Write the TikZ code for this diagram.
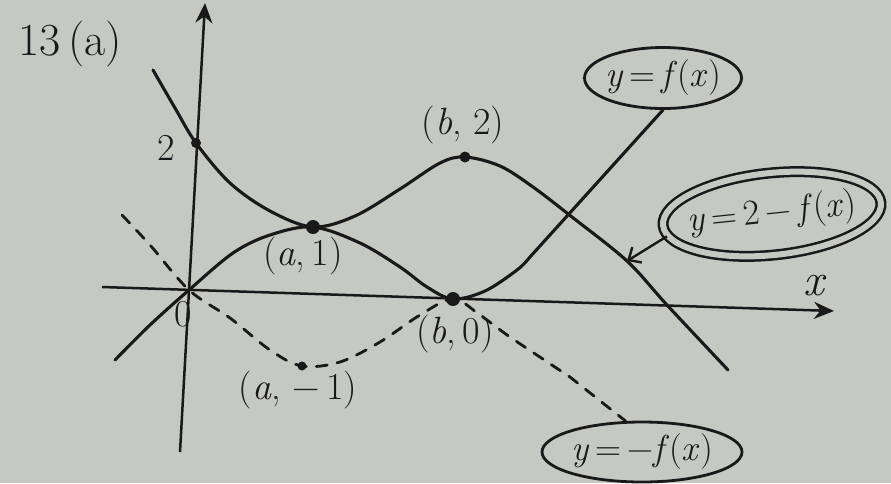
\documentclass[tikz,border=0pt]{standalone}
\usetikzlibrary{arrows.meta,shapes.geometric}
\definecolor{paper}{RGB}{198,200,194}
\definecolor{ink}{RGB}{25,25,25}
\newcommand{\vv}[1]{\textit{#1}}
\begin{document}
\begin{tikzpicture}[x=1pt,y=-1pt,
  curve/.style={draw=ink,line width=3.1pt,line cap=round,line join=round},
  dcurve/.style={curve,line width=2.8pt,dash pattern=on 11pt off 10pt},
  axisline/.style={draw=ink,line width=2.5pt,-{Stealth[length=20pt,width=17pt]}},
  lbl/.style={text=ink,inner sep=0pt,font=\fontsize{38}{42}\selectfont},
  tag/.style={ellipse,draw=ink,line width=2.8pt,inner ysep=0pt,inner xsep=-4pt,text=ink,font=\fontsize{36}{40}\selectfont},
  blob/.style={circle,fill=ink,inner sep=0pt,minimum size=#1},
  blob/.default=10pt,
  pointer/.style={draw=ink,line width=2.4pt,-{Straight Barb[length=10pt,width=18pt,line width=2.4pt]}}
]
\fill[paper] (0,0) rectangle (891,483);
\useasboundingbox (0,0) rectangle (891,483);

% axes
\coordinate (xs) at (102,287);
\coordinate (xe) at (834,311);
\coordinate (ys) at (180,452);
\coordinate (ye) at (205,3);
\draw[axisline] (xs) -- (xe);
\draw[axisline] (ys) -- (ye);

% labels
\node[lbl,font=\fontsize{46}{50}\selectfont] (title) at (70,44) {13\,(a)};
\node[lbl] (two) at (166,148) {2};
\node[lbl] (zero) at (183,314) {0};
\node[lbl,font=\fontsize{46}{50}\selectfont] (xl) at (815,286) {\vv{x}};
\node[lbl] (lb2) at (463,125) {(\vv{b},\ 2)};
\node[lbl] (la1) at (303,256) {(\vv{a},\,1)};
\node[lbl] (lb0) at (455,334) {(\vv{b},\,0)};
\node[lbl] (lam) at (298,390) {(\vv{a},\ −\,1)};

% tags
\node[tag,minimum width=157pt,minimum height=61pt] (yf) at (663,78) {\vv{y}\,=\,\vv{f}(\vv{x})};
\node[tag,double=paper,double distance=6pt,line width=2.5pt,inner xsep=-12pt,minimum width=219pt,minimum height=82pt,rotate=6] (ydf) at (772,214) {\vv{y}\,=\,2\,−\,\vv{f}(\vv{x})};
\node[tag,minimum width=200pt,minimum height=60pt] (ymf) at (642,452) {\vv{y}\,=\,−\vv{f}(\vv{x})};

% curve y = 2 - f(x)
\draw[curve] plot[smooth,tension=0.55] coordinates {(153,70) (175,108) (196,143) (230,183) (270,211) (313,227) (355,216) (400,189) (440,163) (465,157) (500,166) (533,187) (572,217) (627,261) (667,305) (728,370)};

% curve y = f(x)
\draw[curve] plot[smooth,tension=0.55] coordinates {(115,360) (150,325) (189,290) (233,253) (270,235) (313,227) (360,243) (400,267) (427,287) (453,299) (485,291) (517,270) (530,257)} -- (yf.south);

% curve y = -f(x)
\draw[dcurve] plot[smooth,tension=0.55] coordinates {(122,215) (150,245) (189,290) (230,318) (270,350) (302,366) (340,362) (380,342) (420,315) (453,299) (480,315) (510,337) (570,377)} -- (ymf.118);

% marked points
\node[blob=10pt] (P2) at (196,143) {};
\node[blob=14pt] (A1) at (313,227) {};
\node[blob=11pt] (B2) at (465,157) {};
\node[blob=14pt] (B0) at (453,299) {};
\node[blob=9pt] (Am) at (302,366) {};

% pointer to y = 2 - f(x)
\coordinate (tip) at (627,261);
\draw[pointer] (ydf.186) -- (tip);
\end{tikzpicture}
\end{document}
